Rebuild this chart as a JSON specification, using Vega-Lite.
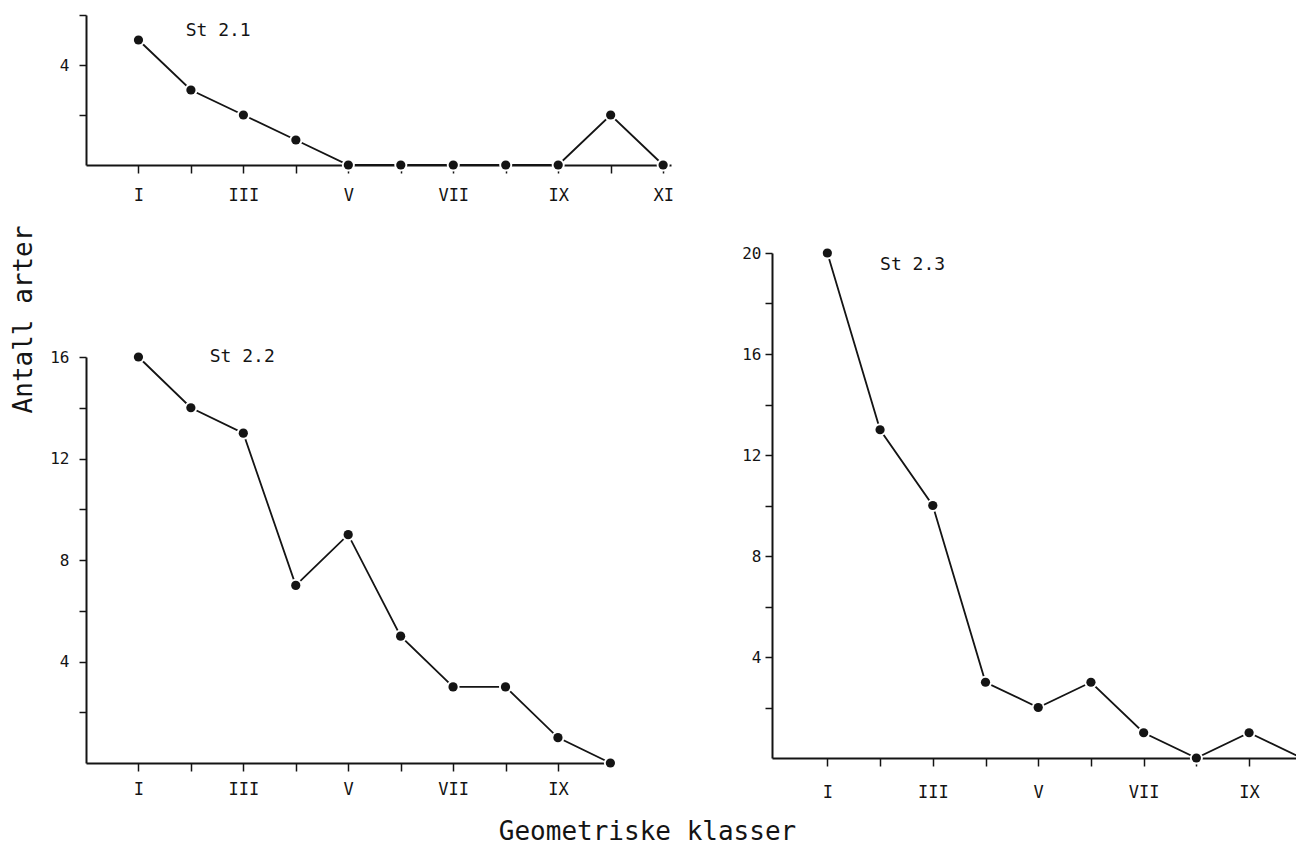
{
  "$schema": "https://vega.github.io/schema/vega-lite/v6.json",
  "background": "white",
  "padding": {"left": 9, "top": 7, "right": 0, "bottom": 0},
  "config": {
    "view": {"stroke": null},
    "font": "DejaVu Sans Mono",
    "axis": {
      "grid": false,
      "domainColor": "#141414",
      "domainWidth": 2,
      "tickColor": "#141414",
      "tickWidth": 1.5,
      "labelColor": "#141414",
      "labelFont": "DejaVu Sans Mono",
      "titleFont": "DejaVu Sans Mono",
      "titleFontWeight": "normal",
      "titleColor": "#141414",
      "labelFlush": false,
      "labelOverlap": false,
      "labelBound": false,
      "zindex": 1
    }
  },
  "datasets": {
    "arter": [
      {"stasjon": "St 2.1", "klasse": 1, "arter": 5},
      {"stasjon": "St 2.1", "klasse": 2, "arter": 3},
      {"stasjon": "St 2.1", "klasse": 3, "arter": 2},
      {"stasjon": "St 2.1", "klasse": 4, "arter": 1},
      {"stasjon": "St 2.1", "klasse": 5, "arter": 0},
      {"stasjon": "St 2.1", "klasse": 6, "arter": 0},
      {"stasjon": "St 2.1", "klasse": 7, "arter": 0},
      {"stasjon": "St 2.1", "klasse": 8, "arter": 0},
      {"stasjon": "St 2.1", "klasse": 9, "arter": 0},
      {"stasjon": "St 2.1", "klasse": 10, "arter": 2},
      {"stasjon": "St 2.1", "klasse": 11, "arter": 0},
      {"stasjon": "St 2.2", "klasse": 1, "arter": 16},
      {"stasjon": "St 2.2", "klasse": 2, "arter": 14},
      {"stasjon": "St 2.2", "klasse": 3, "arter": 13},
      {"stasjon": "St 2.2", "klasse": 4, "arter": 7},
      {"stasjon": "St 2.2", "klasse": 5, "arter": 9},
      {"stasjon": "St 2.2", "klasse": 6, "arter": 5},
      {"stasjon": "St 2.2", "klasse": 7, "arter": 3},
      {"stasjon": "St 2.2", "klasse": 8, "arter": 3},
      {"stasjon": "St 2.2", "klasse": 9, "arter": 1},
      {"stasjon": "St 2.2", "klasse": 10, "arter": 0},
      {"stasjon": "St 2.3", "klasse": 1, "arter": 20},
      {"stasjon": "St 2.3", "klasse": 2, "arter": 13},
      {"stasjon": "St 2.3", "klasse": 3, "arter": 10},
      {"stasjon": "St 2.3", "klasse": 4, "arter": 3},
      {"stasjon": "St 2.3", "klasse": 5, "arter": 2},
      {"stasjon": "St 2.3", "klasse": 6, "arter": 3},
      {"stasjon": "St 2.3", "klasse": 7, "arter": 1},
      {"stasjon": "St 2.3", "klasse": 8, "arter": 0},
      {"stasjon": "St 2.3", "klasse": 9, "arter": 1},
      {"stasjon": "St 2.3", "klasse": 10, "arter": 0}
    ]
  },
  "bounds": "flush",
  "spacing": 686,
  "hconcat": [
    {
      "bounds": "flush",
      "spacing": 192,
      "vconcat": [
        {
          "width": 585,
          "height": 150,
          "layer": [
            {
              "data": {"name": "arter"},
              "transform": [{"filter": "datum.stasjon == 'St 2.1'"}],
              "encoding": {
                "x": {
                  "field": "klasse", "type": "quantitative",
                  "scale": {"domain": [0, 11.15], "nice": false, "zero": false},
                  "axis": {
                    "title": null,
                    "values": [1, 2, 3, 4, 5, 6, 7, 8, 9, 10, 11],
                    "labelExpr": "datum.value % 2 == 1 ? ['', 'I', 'II', 'III', 'IV', 'V', 'VI', 'VII', 'VIII', 'IX', 'X', 'XI'][datum.value] : ''",
                    "tickSize": 8, "labelPadding": 14, "labelFontSize": 17
                  }
                },
                "y": {
                  "field": "arter", "type": "quantitative",
                  "scale": {"domain": [0, 6], "nice": false},
                  "axis": {
                    "title": null,
                    "values": [2, 4, 6],
                    "labelExpr": "datum.value % 4 == 0 ? datum.label : ''",
                    "tickSize": 7, "labelPadding": 10, "labelFontSize": 16
                  }
                }
              },
              "layer": [
                {"mark": {"type": "line", "color": "#141414", "strokeWidth": 1.8}},
                {"mark": {"type": "point", "filled": true, "color": "white", "opacity": 1, "size": 170}},
                {"mark": {"type": "point", "filled": true, "color": "#141414", "opacity": 1, "size": 85}}
              ]
            },
            {
              "data": {"values": [{"navn": "St 2.1"}]},
              "mark": {"type": "text", "align": "left", "baseline": "middle", "fontSize": 18, "color": "#141414"},
              "encoding": {
                "x": {"datum": 1.9, "type": "quantitative"},
                "y": {"datum": 5.36, "type": "quantitative"},
                "text": {"field": "navn"}
              }
            }
          ]
        },
        {
          "width": 527,
          "height": 406,
          "layer": [
            {
              "data": {"name": "arter"},
              "transform": [{"filter": "datum.stasjon == 'St 2.2'"}],
              "encoding": {
                "x": {
                  "field": "klasse", "type": "quantitative",
                  "scale": {"domain": [0, 10.05], "nice": false, "zero": false},
                  "axis": {
                    "title": "Geometriske klasser",
                    "titleX": 561, "titleY": 68,
                    "titleAlign": "center", "titleBaseline": "middle", "titleFontSize": 26,
                    "values": [1, 2, 3, 4, 5, 6, 7, 8, 9],
                    "labelExpr": "datum.value % 2 == 1 ? ['', 'I', 'II', 'III', 'IV', 'V', 'VI', 'VII', 'VIII', 'IX', 'X', 'XI'][datum.value] : ''",
                    "tickSize": 8, "labelPadding": 10, "labelFontSize": 17
                  }
                },
                "y": {
                  "field": "arter", "type": "quantitative",
                  "scale": {"domain": [0, 16], "nice": false},
                  "axis": {
                    "title": "Antall arter",
                    "titleX": -63, "titleY": -38, "titleAngle": 270,
                    "titleAlign": "center", "titleBaseline": "middle", "titleFontSize": 26,
                    "values": [2, 4, 6, 8, 10, 12, 14, 16],
                    "labelExpr": "datum.value % 4 == 0 ? datum.label : ''",
                    "tickSize": 7, "labelPadding": 10, "labelFontSize": 16
                  }
                }
              },
              "layer": [
                {"mark": {"type": "line", "color": "#141414", "strokeWidth": 1.8}},
                {"mark": {"type": "point", "filled": true, "color": "white", "opacity": 1, "size": 170}},
                {"mark": {"type": "point", "filled": true, "color": "#141414", "opacity": 1, "size": 85}}
              ]
            },
            {
              "data": {"values": [{"navn": "St 2.2"}]},
              "mark": {"type": "text", "align": "left", "baseline": "middle", "fontSize": 18, "color": "#141414"},
              "encoding": {
                "x": {"datum": 2.36, "type": "quantitative"},
                "y": {"datum": 16, "type": "quantitative"},
                "text": {"field": "navn"}
              }
            }
          ]
        }
      ]
    },
    {
      "bounds": "flush",
      "spacing": 200,
      "vconcat": [
        {"width": 10, "height": 38, "data": {"values": []}, "mark": "point"},
        {
          "width": 524,
          "height": 505,
          "layer": [
            {
              "data": {"name": "arter"},
              "transform": [{"filter": "datum.stasjon == 'St 2.3'"}],
              "encoding": {
                "x": {
                  "field": "klasse", "type": "quantitative",
                  "scale": {"domain": [-0.05, 9.89], "nice": false, "zero": false},
                  "axis": {
                    "title": null,
                    "values": [1, 2, 3, 4, 5, 6, 7, 8, 9],
                    "labelExpr": "datum.value % 2 == 1 ? ['', 'I', 'II', 'III', 'IV', 'V', 'VI', 'VII', 'VIII', 'IX', 'X', 'XI'][datum.value] : ''",
                    "tickSize": 8, "labelPadding": 18, "labelFontSize": 17
                  }
                },
                "y": {
                  "field": "arter", "type": "quantitative",
                  "scale": {"domain": [0, 20], "nice": false},
                  "axis": {
                    "title": null,
                    "values": [2, 4, 6, 8, 10, 12, 14, 16, 18, 20],
                    "labelExpr": "datum.value % 4 == 0 ? datum.label : ''",
                    "tickSize": 7, "labelPadding": 4, "labelFontSize": 16
                  }
                }
              },
              "layer": [
                {"mark": {"type": "line", "color": "#141414", "strokeWidth": 1.8, "clip": true}},
                {"transform": [{"filter": "datum.klasse <= 9"}],
                 "mark": {"type": "point", "filled": true, "color": "white", "opacity": 1, "size": 170}},
                {"transform": [{"filter": "datum.klasse <= 9"}],
                 "mark": {"type": "point", "filled": true, "color": "#141414", "opacity": 1, "size": 85}}
              ]
            },
            {
              "data": {"values": [{"navn": "St 2.3"}]},
              "mark": {"type": "text", "align": "left", "baseline": "middle", "fontSize": 18, "color": "#141414"},
              "encoding": {
                "x": {"datum": 2.0, "type": "quantitative"},
                "y": {"datum": 19.52, "type": "quantitative"},
                "text": {"field": "navn"}
              }
            }
          ]
        }
      ]
    }
  ]
}
